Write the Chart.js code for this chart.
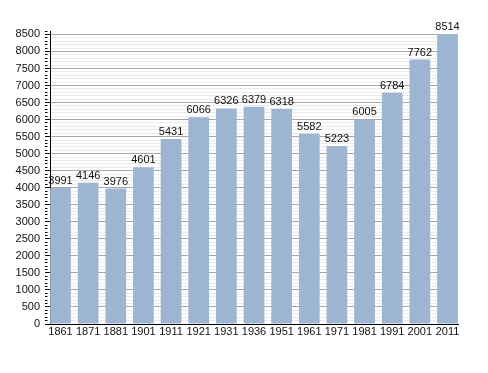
<!DOCTYPE html>
<html>
<head>
<meta charset="utf-8">
<script src="https://cdn.jsdelivr.net/npm/chart.js@4"></script>
<style>
  html, body { margin: 0; padding: 0; background: #fff; }
  #wrap { width: 488px; height: 373px; }
</style>
</head>
<body>
<div id="wrap"><canvas id="c" width="488" height="373"></canvas></div>
<script>
const years = ["1861","1871","1881","1901","1911","1921","1931","1936","1951","1961","1971","1981","1991","2001","2011"];
const population = [3991, 4146, 3976, 4601, 5431, 6066, 6326, 6379, 6318, 5582, 5223, 6005, 6784, 7762, 8514];
const yMajorStep = 500;
const yMinorStep = 100;
const yTop = 8500;

const points = population.map((v, i) => ({ x: i, y: v }));

const valueLabels = {
  id: 'valueLabels',
  afterDatasetsDraw(chart) {
    const ctx = chart.ctx;
    const meta = chart.getDatasetMeta(0);
    ctx.save();
    ctx.font = '11px "Liberation Sans", Arial, sans-serif';
    ctx.fillStyle = '#111';
    ctx.textAlign = 'center';
    ctx.textBaseline = 'alphabetic';
    meta.data.forEach((bar, i) => {
      ctx.fillText(String(population[i]), bar.x, bar.y - 4);
    });
    ctx.restore();
  }
};

new Chart(document.getElementById('c'), {
  type: 'bar',
  data: {
    datasets: [{
      data: points,
      backgroundColor: '#9db5d0',
      borderWidth: 0,
      barPercentage: 0.75,
      categoryPercentage: 1.0
    }]
  },
  options: {
    responsive: false,
    animation: false,
    events: [],
    layout: { padding: { left: 0, right: 30, top: 31, bottom: 0 } },
    plugins: { legend: { display: false }, tooltip: { enabled: false } },
    scales: {
      x: {
        type: 'linear',
        offset: false,
        min: -0.38,
        max: 14.38,
        afterBuildTicks: (s) => { s.ticks = years.map((_, i) => ({ value: i })); },
        afterFit: (s) => { s.height = 49; },
        ticks: {
          autoSkip: false,
          maxRotation: 0,
          padding: 1,
          color: '#111',
          font: { family: '"Liberation Sans", Arial, sans-serif', size: 11 },
          callback: (v) => years[v] !== undefined ? years[v] : ''
        },
        grid: { display: false, drawTicks: false, tickLength: 0 },
        border: { display: true, color: '#000', width: 1 }
      },
      y: {
        min: 0,
        max: 8600,
        afterBuildTicks: (s) => {
          const t = [];
          for (let v = 0; v <= 8600; v += yMinorStep) t.push({ value: v });
          s.ticks = t;
        },
        afterFit: (s) => { s.width = 50; },
        ticks: {
          autoSkip: false,
          padding: 5,
          color: '#111',
          font: { family: '"Liberation Sans", Arial, sans-serif', size: 11 },
          callback: (v) => (v % yMajorStep === 0 && v <= yTop) ? String(v) : ''
        },
        grid: {
          drawTicks: true,
          tickLength: 5,
          tickColor: '#000',
          tickBorderDash: (c) => {
            const v = c.tick ? c.tick.value : 0;
            return v % yMajorStep === 0 ? [] : [2.5, 20];
          },
          color: (c) => {
            const v = c.tick ? c.tick.value : 0;
            if (v > yTop) return 'rgba(0,0,0,0)';
            return v % yMajorStep === 0 ? '#a6a6a6' : '#ebebeb';
          },
          lineWidth: 1
        },
        border: { display: true, color: '#000', width: 1 }
      }
    }
  },
  plugins: [valueLabels]
});
</script>
</body>
</html>
